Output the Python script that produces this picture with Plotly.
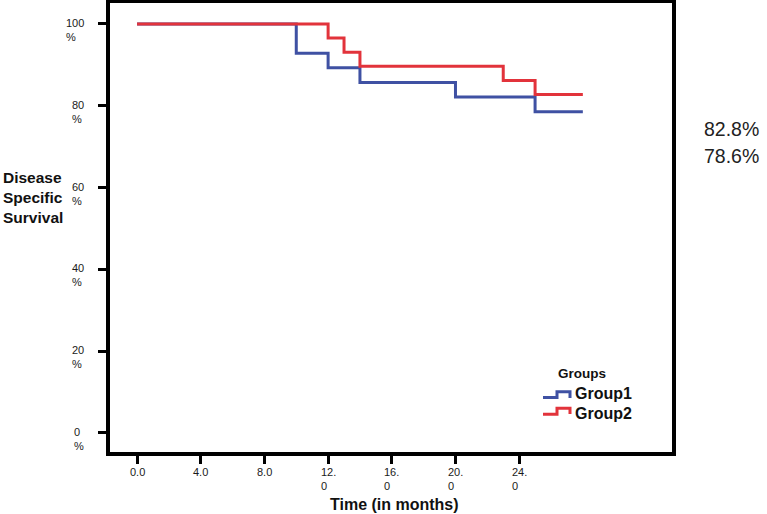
import plotly.graph_objects as go

# ---- data ----
group1_time = [0, 10, 12, 14, 20, 25, 28]
group1_surv = [100, 92.86, 89.29, 85.71, 82.14, 78.57, 78.57]
group2_time = [0, 12, 13, 14, 23, 25, 28]
group2_surv = [100, 96.55, 93.10, 89.66, 86.21, 82.76, 82.76]

x_tick_vals = [0, 4, 8, 12, 16, 20, 24]
x_tick_text = ["0.0", "4.0", "8.0", "12.\n0", "16.\n0", "20.\n0", "24.\n0"]
y_tick_vals = [0, 20, 40, 60, 80, 100]
y_tick_text = ["0\n%", "20\n%", "40\n%", "60\n%", "80\n%", "100\n%"]

final_labels = ["82.8%", "78.6%"]
group_names = ["Group1", "Group2"]

BLUE = "#3F51A3"
RED = "#E2333B"
W, H = 767, 514
L, R, T, B = 110, 672, 3, 452  # plot area (inside the frame) in pixels


def px(x):
    return (x - L) / (R - L)


def py(y):
    return (B - y) / (B - T)


fig = go.Figure()
fig.add_trace(go.Scatter(x=group1_time, y=group1_surv, mode="lines",
                         line=dict(color=BLUE, width=3, shape="hv"),
                         name=group_names[0], showlegend=False))
fig.add_trace(go.Scatter(x=group2_time, y=group2_surv, mode="lines",
                         line=dict(color=RED, width=3, shape="hv"),
                         name=group_names[1], showlegend=False))

TXT = "#1a1a1a"
FONT = "Liberation Sans, Arial, sans-serif"
ann = []
for v, t in zip(y_tick_vals, y_tick_text):
    ann.append(dict(x=px(85), xref="paper", y=v, yref="y", text=t.replace("\n", "<br>"),
                    xanchor="right", yanchor="top", yshift=8, align="left",
                    showarrow=False, borderpad=0, font=dict(family=FONT, size=11, color=TXT)))
for v, t in zip(x_tick_vals, x_tick_text):
    ann.append(dict(x=v, xref="x", y=py(465), yref="paper", text=t.replace("\n", "<br>"),
                    xanchor="center", yanchor="top", align="left",
                    showarrow=False, borderpad=0, font=dict(family=FONT, size=11, color=TXT)))

ann.append(dict(x=px(394), xref="paper", y=py(504), yref="paper", text="<b>Time (in months)</b>",
                xanchor="center", yanchor="middle", showarrow=False,
                font=dict(family=FONT, size=16, color="#111111")))
ann.append(dict(x=px(1), xref="paper", y=py(198), yref="paper",
                text="<b>Disease<br>Specific<br>Survival</b>",
                xanchor="left", yanchor="middle", align="left", showarrow=False,
                font=dict(family=FONT, size=15.5, color="#111111")))

ann.append(dict(x=px(582), xref="paper", y=py(373), yref="paper", text="<b>Groups</b>",
                xanchor="center", yanchor="middle", showarrow=False,
                font=dict(family=FONT, size=13.5, color="#111111")))
for i, (name, yy) in enumerate(zip(group_names, [393.5, 413.5])):
    ann.append(dict(x=px(573), xref="paper", y=py(yy), yref="paper", text=f"<b>{name}</b>",
                    xanchor="left", yanchor="middle", showarrow=False,
                    font=dict(family=FONT, size=16, color="#111111")))

for lab, yy in zip(final_labels, [129, 156]):
    ann.append(dict(x=px(731), xref="paper", y=py(yy), yref="paper", text=lab,
                    xanchor="center", yanchor="middle", showarrow=False,
                    font=dict(family="Liberation Sans, Arial, sans-serif", size=19.5, color="#222222")))


def step_path(x0, x1, x2, ylow, yhigh, yend):
    return (f"M {px(x0)} {py(ylow)} L {px(x1)} {py(ylow)} L {px(x1)} {py(yhigh)} "
            f"L {px(x2)} {py(yhigh)} L {px(x2)} {py(yend)}")


shapes = [
    dict(type="path", xref="paper", yref="paper", path=step_path(543, 557, 570, 397.5, 391.7, 398),
         line=dict(color=BLUE, width=3)),
    dict(type="path", xref="paper", yref="paper", path=step_path(543, 557, 570, 414.2, 408.3, 414),
         line=dict(color=RED, width=3)),
]

fig.update_layout(
    width=W, height=H,
    margin=dict(l=L, r=W - R, t=T, b=H - B, autoexpand=False),
    paper_bgcolor="white", plot_bgcolor="white",
    showlegend=False,
    annotations=ann, shapes=shapes,
    xaxis=dict(range=[-1.70, 33.60], tickvals=x_tick_vals, showticklabels=False,
               ticks="outside", ticklen=8, tickwidth=2.5, tickcolor="black",
               showline=True, linewidth=3.5, linecolor="black", mirror=True,
               showgrid=False, zeroline=False, fixedrange=True, automargin=False),
    yaxis=dict(range=[-4.65, 105.13], tickvals=y_tick_vals, showticklabels=False,
               ticks="outside", ticklen=8, tickwidth=2.5, tickcolor="black",
               showline=True, linewidth=3.5, linecolor="black", mirror=True,
               showgrid=False, zeroline=False, fixedrange=True, automargin=False),
)

fig.write_html("out.html", config={"displayModeBar": False},
               post_script="document.body.style.margin='0';document.body.style.overflow='hidden';")
